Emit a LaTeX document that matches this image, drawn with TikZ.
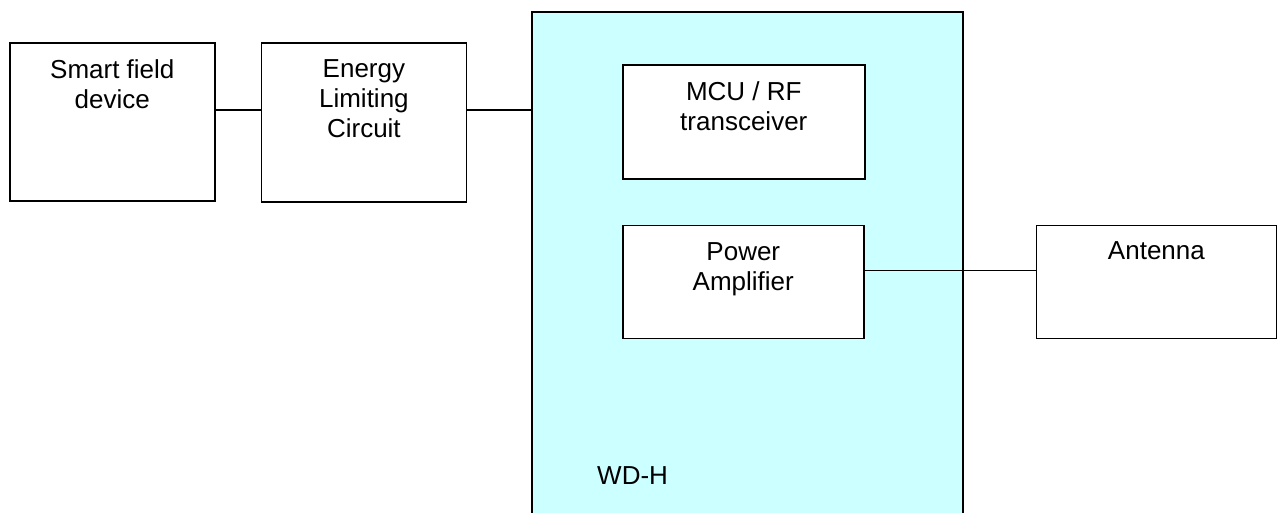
\documentclass[tikz,border=0pt]{standalone}
\usepackage{fontspec}
\setmainfont{Liberation Sans}
\usetikzlibrary{positioning}

\definecolor{wdcyan}{RGB}{204,255,255}

\tikzset{
  blk/.style={draw, line width=1.6pt, fill=white, inner sep=0pt},
  lbl/.style={anchor=north, align=center, inner sep=0pt, font=\fontsize{26}{30}\selectfont},
  wire/.style={line width=1.6pt}
}

\begin{document}
\begin{tikzpicture}[x=1pt,y=-1pt]
\useasboundingbox (0,0) rectangle (1279,512);

% Housing
\node[blk, fill=wdcyan, minimum width=431pt, minimum height=540pt, anchor=north west] (wdh) at (531,11) {};
\node[lbl, anchor=base west] (wdh-t) at (597,484) {WD-H};

% Field side
\node[blk, minimum width=205pt, minimum height=158pt, anchor=north west] (sfd) at (9,42) {};
\node[blk, minimum width=205pt, minimum height=159pt, right=45pt of sfd.north east, anchor=north west] (elc) {};

% Inside the housing
\node[blk, minimum width=242pt, minimum height=114pt, anchor=north west] (mcu) at (622,64) {};
\node[blk, minimum width=241pt, minimum height=113pt, below=45pt of mcu.south west, anchor=north west] (pa) {};

% Antenna
\node[blk, minimum width=240pt, minimum height=113pt, right=171pt of pa.north east, anchor=north west] (ant) {};

% Labels
\node[lbl] (sfd-t) at ([yshift=-17pt]sfd.north) {Smart field\\device};
\node[lbl] (elc-t) at ([yshift=-17pt]elc.north) {Energy\\Limiting\\Circuit};
\node[lbl] (mcu-t) at ([yshift=-17pt]mcu.north) {MCU / RF\\transceiver};
\node[lbl] (pa-t) at ([yshift=-18pt]pa.north) {Power\\Amplifier};
\node[lbl] (ant-t) at ([yshift=-17pt]ant.north) {Antenna};

% Wiring
\draw[wire] ([yshift=-68pt]sfd.north east) -- ([yshift=-68pt]elc.north west);
\draw[wire] ([yshift=-68pt]elc.north east) -- ([yshift=-99pt]wdh.north west);
\draw[wire] ([yshift=-46pt]pa.north east) -- ([yshift=-46pt]ant.north west);

\end{tikzpicture}
\end{document}
